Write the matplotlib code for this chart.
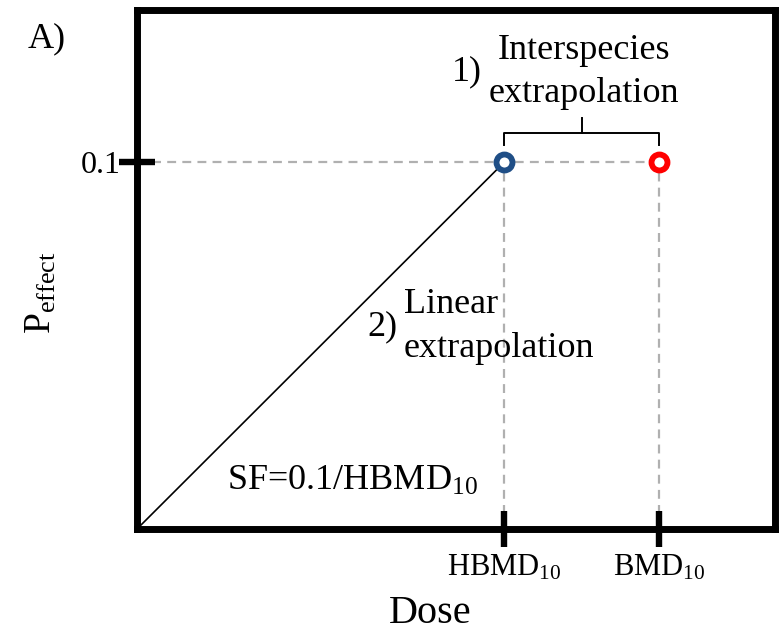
import matplotlib
matplotlib.use("Agg")
import matplotlib.pyplot as plt

plt.rcParams['font.family'] = ['Liberation Serif', 'DejaVu Serif']
plt.rcParams['mathtext.fontset'] = 'custom'
plt.rcParams['mathtext.rm'] = 'Liberation Serif'
plt.rcParams['mathtext.it'] = 'Liberation Serif:italic'
plt.rcParams['mathtext.bf'] = 'Liberation Serif:bold'

# data
dose_labels = ['HBMD$_{10}$', 'BMD$_{10}$']
dose_values = [0.576, 0.818]
p_effect = 0.1
y_tick_label = '0.1'
point_colors = ['#1F4E86', '#FF0000']
x_max = 1.0
y_max = 0.1414

W, H = 782, 632
fig = plt.figure(figsize=(W/100, H/100), dpi=100)
ax_l, ax_r, ax_t, ax_b = 137, 775, 10, 529
ax = fig.add_axes([ax_l/W, 1-ax_b/H, (ax_r-ax_l)/W, (ax_b-ax_t)/H])
ax.set_xlim(0, x_max)
ax.set_ylim(0, y_max)
py = y_max/(ax_b-ax_t)  # data units per pixel (vertical)

for s in ax.spines.values():
    s.set_linewidth(5)
    s.set_color('black')

hb, bm = dose_values
# dashed guides
dash = (0, (4, 2.8))
ax.plot([0, bm], [p_effect, p_effect], ls=dash, color='#B0B0B0', lw=1.6, zorder=1)
for xv in dose_values:
    ax.plot([xv, xv], [0, p_effect], ls=dash, color='#B0B0B0', lw=1.6, zorder=1)

# linear extrapolation line
ax.plot([0, hb], [0, p_effect], color='black', lw=1.2, zorder=2)

# points
for xv, c in zip(dose_values, point_colors):
    ax.plot([xv], [p_effect], marker='o', ms=11.5, mfc='white', mec=c, mew=4.2,
            zorder=3, clip_on=False)

# brace
yb = p_effect + 29*py
ax.plot([hb, hb, bm, bm], [p_effect + 17*py, yb, yb, p_effect + 17*py],
        color='black', lw=1.4, solid_joinstyle='round')
xm = (hb + bm) / 2
ax.plot([xm, xm], [yb, p_effect + 44*py], color='black', lw=1.4)

# ticks
ax.set_xticks(dose_values)
ax.set_xticklabels(dose_labels, fontsize=22)
ax.set_yticks([p_effect])
ax.set_yticklabels([y_tick_label], fontsize=23)
ax.tick_params(axis='both', direction='inout', length=26, width=4.6, color='black')
ax.tick_params(axis='x', pad=4)
ax.tick_params(axis='y', pad=-1)

ax.set_xlabel('Dose', fontsize=29, va='baseline')
ax.xaxis.set_label_coords((430-ax_l)/(ax_r-ax_l), (ax_b-623)/(ax_b-ax_t))
ax.set_ylabel('P$_{\\mathrm{effect}}$', fontsize=27, va='center', ha='center')
ax.yaxis.set_label_coords((41-ax_l)/(ax_r-ax_l), (ax_b-293)/(ax_b-ax_t))

def ftext(x, y, s, ha='left', size=26):
    fig.text(x/W, 1-y/H, s, fontsize=size, ha=ha, va='baseline')

# annotations
ftext(28, 47, 'A)')
ftext(452, 80, '1)')
ftext(584, 59, 'Interspecies', ha='center')
ftext(584, 102, 'extrapolation', ha='center')
ftext(367, 335, '2)')
ftext(404, 313, 'Linear')
ftext(404, 357, 'extrapolation')
ftext(227, 490, 'SF=0.1/HBMD$_{10}$')

fig.savefig('out.png', dpi=100)
